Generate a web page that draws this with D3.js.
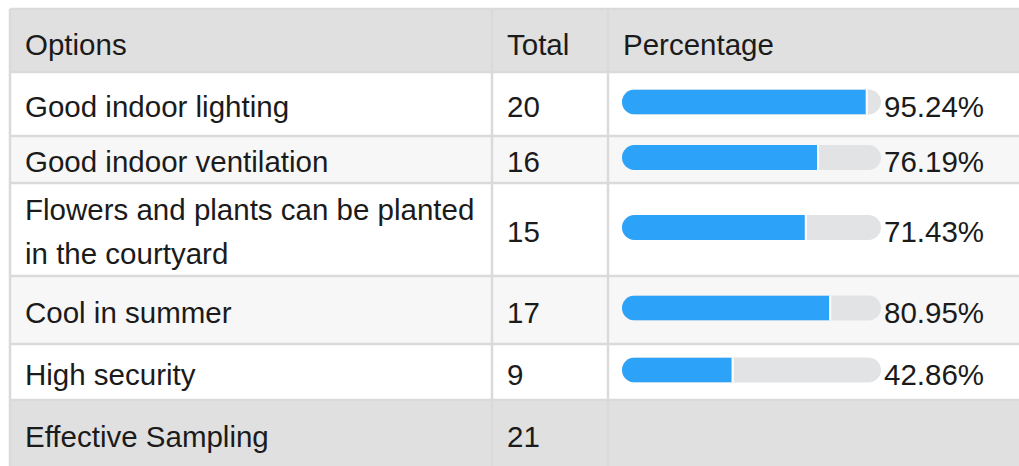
<!DOCTYPE html>
<meta charset="utf-8">
<style>
body { margin: 0; background: #fff; }
svg text {
  font-family: "Liberation Sans", Arial, sans-serif;
  font-size: 29.5px;
  fill: #1b1b1b;
}
</style>
<svg width="1019" height="466"></svg>
<script src="https://d3js.org/d3.v7.min.js"></script>
<script>

var headers = ["Options", "Total", "Percentage"];
var options = ["Good indoor lighting", "Good indoor ventilation",
  "Flowers and plants can be planted in the courtyard",
  "Cool in summer", "High security"];
var totals = [20, 16, 15, 17, 9];
var percents = [95.24, 76.19, 71.43, 80.95, 42.86];
var footerLabel = "Effective Sampling";
var footerTotal = 21;

// layout: column edges and row heights (header, 5 rows, footer)
var colX = [10, 492, 608, 1040],
  rowH = [63, 64, 47, 93, 68, 56, 80],
  tableTop = 9,
  pad = 15,
  lineH = 44;

var rowY = [tableTop].concat(Array.from(d3.cumsum(rowH), function(d) { return tableTop + d; }));

var svg = d3.select("svg");

var barX = 622, trackW = 259, barH = 25;
var x = d3.scaleLinear().domain([0, 100]).range([0, 256]);

var rows = [{type: "head", cells: headers}];
options.forEach(function(o, i) {
  rows.push({type: "body", i: i, cells: [o, String(totals[i])], pct: percents[i]});
});
rows.push({type: "foot", cells: [footerLabel, String(footerTotal), ""]});

function fillFor(d, i) {
  if (d.type != "body") return "#e0e0e0";
  return d.i % 2 == 1 ? "#f7f7f7" : "#ffffff";
}

// row backgrounds
svg.append("g").selectAll("rect")
  .data(rows)
  .enter().append("rect")
    .attr("x", colX[0])
    .attr("y", function(d, i) { return rowY[i]; })
    .attr("width", colX[3] - colX[0])
    .attr("height", function(d, i) { return rowH[i]; })
    .attr("fill", fillFor);

// grid lines
var grid = svg.append("g").attr("stroke", "#dadada").attr("stroke-width", 2.5);
grid.selectAll("line.h")
  .data(rowY)
  .enter().append("line")
    .attr("class", "h")
    .attr("x1", colX[0]).attr("x2", colX[3])
    .attr("y1", function(d) { return d; }).attr("y2", function(d) { return d; });
grid.selectAll("line.v")
  .data(colX.slice(0, 3))
  .enter().append("line")
    .attr("class", "v")
    .attr("x1", function(d) { return d; }).attr("x2", function(d) { return d; })
    .attr("y1", tableTop).attr("y2", 470);

// wrap text to column width
function wrap(text, maxW) {
  text.each(function() {
    var t = d3.select(this), words = t.text().split(" "), lines = [], line = [];
    t.text(null);
    var tmp = t.append("tspan");
    words.forEach(function(w) {
      line.push(w);
      tmp.text(line.join(" "));
      if (tmp.node().getComputedTextLength() > maxW && line.length > 1) {
        line.pop();
        lines.push(line.join(" "));
        line = [w];
      }
    });
    lines.push(line.join(" "));
    tmp.remove();
    var cy = +t.attr("y");
    var y0 = cy - (lines.length - 1) * lineH / 2;
    lines.forEach(function(l, k) {
      t.append("tspan").attr("x", t.attr("x")).attr("y", y0 + k * lineH).text(l);
    });
  });
}

var rowG = svg.append("g").selectAll("g")
  .data(rows)
  .enter().append("g")
    .attr("transform", function(d, i) { return "translate(0," + (rowY[i] + rowH[i] / 2) + ")"; });

rowG.each(function(d, i) {
  var g = d3.select(this);
  var base = d.type == "body" ? 12.5 : 14;
  if (d.type == "foot") base = 7;
  d.cells.forEach(function(c, k) {
    if (!c) return;
    var t = g.append("text")
      .attr("x", colX[k] + pad)
      .attr("y", base)
      .text(c);
    if (k == 0) wrap(t, colX[1] - colX[0] - pad - 10);
  });
  if (d.type != "body") return;

  var by = -barH / 2 - 2;
  var cid = "clip" + d.i;
  g.append("clipPath").attr("id", cid)
    .append("rect")
      .attr("x", barX).attr("y", by)
      .attr("width", trackW).attr("height", barH)
      .attr("rx", barH / 2);
  g.append("rect")
    .attr("x", barX).attr("y", by)
    .attr("width", trackW).attr("height", barH)
    .attr("rx", barH / 2)
    .attr("fill", "#e2e3e5");
  g.append("rect")
    .attr("clip-path", "url(#" + cid + ")")
    .attr("x", barX).attr("y", by)
    .attr("width", x(d.pct)).attr("height", barH)
    .attr("fill", "#2ca3f9");
  g.append("rect")
    .attr("clip-path", "url(#" + cid + ")")
    .attr("x", barX + x(d.pct)).attr("y", by)
    .attr("width", 2).attr("height", barH)
    .attr("fill", "#ffffff");
  g.append("text")
    .attr("x", barX + trackW + 3)
    .attr("y", 12.5)
    .text(d3.format(".2f")(d.pct) + "%");
});
</script>
